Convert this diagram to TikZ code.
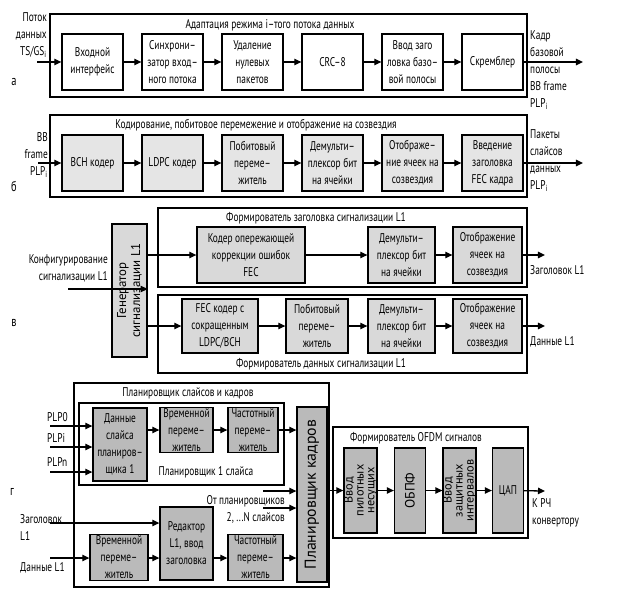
\documentclass[tikz,border=0pt]{standalone}
\usepackage{fontspec}
\setmainfont{PT Sans}[FakeStretch=0.74]
\newfontfamily\widefont{PT Sans}
\usetikzlibrary{arrows.meta,positioning,calc}

\begin{document}
\begin{tikzpicture}[x=0.03cm,y=-0.03cm,
  font=\fontsize{10.8}{14.5}\selectfont,
  box/.style={draw,line width=1.1pt,align=center,inner sep=1pt,
    minimum width=1.83cm,minimum height=1.68cm},
  wbox/.style={box,fill=white},
  lbox/.style={box,fill=black!10},
  gbox/.style={box,fill=black!15},
  dbox/.style={box,fill=black!27},
  rbox/.style={box,rotate=90,inner sep=0pt,font=\widefont\fontsize{10.5}{9.3}\selectfont},
  frm/.style={draw,line width=1.5pt},
  arr/.style={-{Triangle[length=6pt,width=5.5pt]},line width=1.1pt},
  lbl/.style={inner sep=0pt},
  lft/.style={lbl,anchor=west,align=left},
  rgt/.style={lbl,anchor=east,align=right},
  sec/.style={lbl,font=\fontsize{12}{12}\selectfont}]
  \useasboundingbox (0,0) rectangle (623,593);

  % a) input stream adaptation
  \draw[frm] (50,14) rectangle (527,97);
  \node[lbl] (ttla) at (270,25) {Адаптация режима i–того потока данных};
  \node[wbox] (inif) at (92.5,62) {Входной\\интерфейс};
  \node[wbox] (sync) at (172.5,62) {Синхрони–\\затор вход–\\ного потока};
  \node[wbox] (npd) at (252.5,62) {Удаление\\нулевых\\пакетов};
  \node[wbox] (crc) at (332.5,62) {CRC–8};
  \node[wbox] (bbh) at (412.5,62) {Ввод заго\\ловка базо–\\вой полосы};
  \node[wbox] (scr) at (492.5,62) {Скремблер};
  \node[rgt] (ina) at (47,35) {Поток\\данных\\TS/GS\textsubscript{i}};
  \node[sec] (la) at (14,82) {а};
  \node[lft] (outtxta) at (530,70) {Кадр\\базовой\\полосы\\BB frame\\PLP\textsubscript{i}};
  \coordinate (ia) at (37,62);
  \coordinate (oa) at (583,62);
  \draw[arr] (ia) -- (inif);
  \draw[arr] (inif) -- (sync);
  \draw[arr] (sync) -- (npd);
  \draw[arr] (npd) -- (crc);
  \draw[arr] (crc) -- (bbh);
  \draw[arr] (bbh) -- (scr);
  \draw[arr] (scr) -- (oa);

  % b) coding, bit interleaving, mapping
  \draw[frm] (50,115) rectangle (527,197);
  \node[lbl] (ttlb) at (256,125) {Кодирование, побитовое перемежение и отображение на созвездия};
  \node[lbox] (bch) at (92.5,163) {BCH кодер};
  \node[lbox] (ldpc) at (172.5,163) {LDPC кодер};
  \node[lbox] (bil) at (252.5,163) {Побитовый\\переме–\\житель};
  \node[lbox] (dmx) at (332.5,163) {Демульти–\\плексор бит\\на ячейки};
  \node[lbox] (map) at (412.5,163) {Отображе–\\ние ячеек на\\созвездия};
  \node[lbox] (fech) at (492.5,163) {Введение\\заголовка\\FEC кадра};
  \node[rgt] (inb) at (48,155) {BB\\frame\\PLP\textsubscript{i}};
  \node[sec] (lb) at (14,186) {б};
  \node[lft] (outtxtb) at (530,161) {Пакеты\\слайсов\\данных\\PLP\textsubscript{i}};
  \coordinate (ib) at (38,163);
  \coordinate (ob) at (583,163);
  \draw[arr] (ib) -- (bch);
  \draw[arr] (bch) -- (ldpc);
  \draw[arr] (ldpc) -- (bil);
  \draw[arr] (bil) -- (dmx);
  \draw[arr] (dmx) -- (map);
  \draw[arr] (map) -- (fech);
  \draw[arr] (fech) -- (ob);

  % c) L1 signalling
  \node[gbox,rbox,minimum width=3.99cm,minimum height=1.05cm,font=\widefont\fontsize{11}{12}\selectfont]
    (gen) at (129.5,290.5) {Генератор\\сигнализации L1};
  \draw[frm] (158,208) rectangle (527,287);
  \node[lbl] (ttlc1) at (316,218) {Формирователь заголовка сигнализации L1};
  \node[gbox,minimum width=3.24cm] (fec1) at (251,255) {Кодер опережающей\\коррекции ошибок\\FEC};
  \node[gbox,minimum width=2.01cm] (dmx1) at (401.5,255) {Демульти–\\плексор бит\\на ячейки};
  \node[gbox,minimum width=2.07cm] (map1) at (487.5,255) {Отображение\\ячеек на\\созвездия};
  \draw[frm] (158,295) rectangle (527,373);
  \node[lbl] (ttlc2) at (321,364) {Формирователь данных сигнализации L1};
  \node[gbox,minimum width=2.28cm,minimum height=1.62cm] (fec2) at (220,326) {FEC кодер с\\сокращенным\\LDPC/BCH};
  \node[gbox,minimum width=1.86cm,minimum height=1.62cm] (bil2) at (317,326) {Побитовый\\переме–\\житель};
  \node[gbox,minimum width=2.01cm,minimum height=1.62cm] (dmx2) at (401.5,326) {Демульти–\\плексор бит\\на ячейки};
  \node[gbox,minimum width=2.07cm,minimum height=1.62cm] (map2) at (487.5,326) {Отображение\\ячеек на\\созвездия};
  \node[rgt] (inc) at (108,268) {Конфигурирование\\сигнализации L1};
  \node[sec] (lc) at (14,323) {в};
  \node[lft] (outc1) at (530,270) {Заголовок L1};
  \node[lft] (outc2) at (530,342) {Данные L1};
  \coordinate (ic) at (68,289);
  \coordinate (oc1) at (545,255);
  \coordinate (oc2) at (545,326);
  \draw[arr] (ic) -- (ic -| gen.south);
  \draw[arr] (gen.south |- fec1.west) -- (fec1.west);
  \draw[arr] (fec1) -- (dmx1);
  \draw[arr] (dmx1) -- (map1);
  \draw[arr] (map1.east) -- (oc1);
  \draw[arr] (gen.south |- fec2.west) -- (fec2.west);
  \draw[arr] (fec2) -- (bil2);
  \draw[arr] (bil2) -- (dmx2);
  \draw[arr] (dmx2) -- (map2);
  \draw[arr] (map2.east) -- (oc2);

  % d) slice and frame scheduler
  \draw[frm] (74,383) rectangle (329,587);
  \node[lbl] (ttld) at (188,393) {Планировщик слайсов и кадров};
  \draw[frm] (79,403) rectangle (284,485);
  \node[dbox,minimum width=1.62cm,minimum height=2.19cm] (dsl) at (120,444.5) {Данные\\слайса\\планиров–\\щика 1};
  \node[dbox,minimum width=1.59cm,minimum height=1.32cm] (til1) at (186.5,430) {Временной\\переме–\\житель};
  \node[dbox,minimum width=1.5cm,minimum height=1.32cm] (fil1) at (253,430) {Частотный\\переме–\\житель};
  \node[lbl] (ttls) at (206,472) {Планировщик 1 слайса};
  \node[dbox,rbox,minimum width=5.25cm,minimum height=0.9cm,font=\widefont\fontsize{13.5}{14}\selectfont]
    (sched) at (312,494.5) {Планировщик кадров};
  \node[dbox,minimum width=1.59cm,minimum height=2.19cm] (red) at (186.5,543.5) {Редактор\\L1, ввод\\заголовка};
  \node[dbox,minimum width=1.74cm,minimum height=1.35cm] (til2) at (119,557.5) {Временной\\переме–\\житель};
  \node[dbox,minimum width=1.65cm,minimum height=1.35cm] (fil2) at (255.5,557.5) {Частотный\\переме–\\житель};
  \coordinate (p0) at (50,426);
  \coordinate (pi) at (50,447);
  \coordinate (pn) at (50,472);
  \node[lbl,anchor=south west] (tp0) at (47,422) {PLP0};
  \node[lbl,anchor=south west] (tpi) at (47,443) {PLPi};
  \node[lbl,anchor=south west] (tpn) at (47,467) {PLPn};
  \draw[arr] (p0) -- (p0 -| dsl.west);
  \draw[arr] (pi) -- (pi -| dsl.west);
  \draw[arr] (pn) -- (pn -| dsl.west);
  \draw[arr] (dsl.east |- til1.west) -- (til1.west);
  \draw[arr] (til1) -- (fil1);
  \draw[arr] (fil1.east) -- (fil1.east -| sched.north);
  \node[rgt] (otpl) at (285,509) {От планировщиков\\2, ...N слайсов};
  \coordinate (ot1) at (263,491);
  \coordinate (ot2) at (263,508);
  \draw[arr] (ot1) -- (ot1 -| sched.north);
  \draw[arr] (ot2) -- (ot2 -| sched.north);
  \node[lft] (zgl) at (20,527) {Заголовок\\L1};
  \node[lft] (dnl) at (20,568) {Данные L1};
  \node[sec] (ld) at (12,492) {г};
  \coordinate (iz) at (50,523);
  \coordinate (id) at (50,558);
  \draw[arr] (iz) -- (iz -| red.west);
  \draw[arr] (id) -- (til2.west |- id);
  \draw[arr] (til2.east |- id) -- (red.west |- id);
  \draw[arr] (red.east |- id) -- (fil2.west |- id);
  \draw[arr] (fil2.east |- id) -- (sched.north |- id);

  % OFDM signal generator
  \draw[frm] (333,427) rectangle (528,538);
  \node[lbl] (ttlo) at (416,438) {Формирователь OFDM сигналов};
  \node[dbox,rbox,minimum width=2.55cm,minimum height=0.93cm] (pil) at (360.5,490.5) {Ввод\\пилотных\\несущих};
  \node[dbox,rbox,minimum width=2.55cm,minimum height=0.93cm,font=\widefont\fontsize{11.5}{12}\selectfont] (ifft) at (410,490.5) {ОБПФ};
  \node[dbox,rbox,minimum width=2.55cm,minimum height=0.93cm] (gi) at (459.5,490.5) {Ввод\\защитных\\интервалов};
  \node[dbox,minimum width=0.93cm,minimum height=2.55cm] (dac) at (508,490.5) {ЦАП};
  \node[lft] (rf) at (532,513) {К РЧ\\конвертору};
  \coordinate (orf) at (545,491);
  \draw[arr] (sched.south |- pil.north) -- (pil.north);
  \draw[arr] (pil) -- (ifft);
  \draw[arr] (ifft) -- (gi);
  \draw[arr] (gi) -- (dac);
  \draw[arr] (dac) -- (orf);
\end{tikzpicture}
\end{document}
